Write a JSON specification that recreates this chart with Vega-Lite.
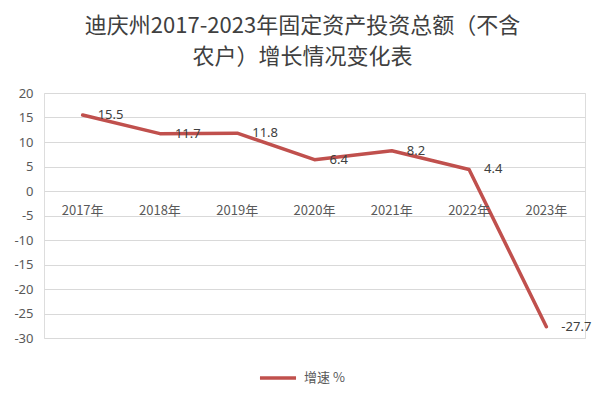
{
  "$schema": "https://vega.github.io/schema/vega-lite/v6.json",
  "autosize": {"type": "none"},
  "padding": {"left": 44, "top": 93, "right": 21, "bottom": 58},
  "width": 541,
  "height": 245,
  "background": "white",
  "title": {
    "text": ["迪庆州2017-2023年固定资产投资总额（不含", "农户）增长情况变化表"],
    "font": "Noto Sans CJK SC",
    "fontSize": 22,
    "fontWeight": "normal",
    "color": "#404040",
    "lineHeight": 31,
    "anchor": "middle",
    "dx": -12,
    "offset": 18
  },
  "data": {
    "values": [
      {"year": "2017年", "value": 15.5, "series": "增速 %"},
      {"year": "2018年", "value": 11.7, "series": "增速 %"},
      {"year": "2019年", "value": 11.8, "series": "增速 %"},
      {"year": "2020年", "value": 6.4, "series": "增速 %"},
      {"year": "2021年", "value": 8.2, "series": "增速 %"},
      {"year": "2022年", "value": 4.4, "series": "增速 %"},
      {"year": "2023年", "value": -27.7, "series": "增速 %"}
    ]
  },
  "encoding": {
    "x": {
      "field": "year",
      "type": "ordinal",
      "sort": null,
      "scale": {"padding": 0.5},
      "axis": {"labels": false, "ticks": false, "domain": false, "title": null, "grid": false}
    },
    "y": {
      "field": "value",
      "type": "quantitative",
      "scale": {"domain": [-30, 20], "nice": false, "zero": false},
      "axis": {
        "values": [20, 15, 10, 5, 0, -5, -10, -15, -20, -25, -30],
        "labelExpr": "replace(datum.label, '−', '-')",
        "labelOverlap": false,
        "title": null,
        "domain": false,
        "ticks": false,
        "labelPadding": 11,
        "labelFont": "Noto Sans",
        "labelFontSize": 13,
        "labelColor": "#595959",
        "gridColor": "#d9d9d9",
        "gridWidth": 1
      }
    }
  },
  "layer": [
    {
      "mark": {"type": "line", "strokeWidth": 3.5, "strokeCap": "round", "strokeJoin": "round"},
      "encoding": {
        "color": {
          "field": "series",
          "type": "nominal",
          "scale": {"range": ["#C0504D"]},
          "legend": {
            "title": null,
            "orient": "none",
            "legendX": 214,
            "legendY": 265,
            "symbolType": "stroke",
            "symbolStrokeWidth": 3.5,
            "symbolSize": 1300,
            "labelFont": "Noto Sans CJK SC",
            "labelFontSize": 13,
            "labelColor": "#595959",
            "labelOffset": 6
          }
        }
      }
    },
    {
      "mark": {"type": "text", "align": "left", "baseline": "middle", "dx": 15, "font": "Noto Sans", "fontSize": 13, "color": "#404040"},
      "encoding": {
        "text": {"field": "value", "type": "nominal"}
      }
    },
    {
      "mark": {"type": "text", "align": "center", "baseline": "middle", "dy": 20, "font": "Noto Sans CJK SC", "fontSize": 13, "color": "#595959"},
      "encoding": {
        "y": {"datum": 0},
        "text": {"field": "year", "type": "nominal"}
      }
    }
  ]
}
